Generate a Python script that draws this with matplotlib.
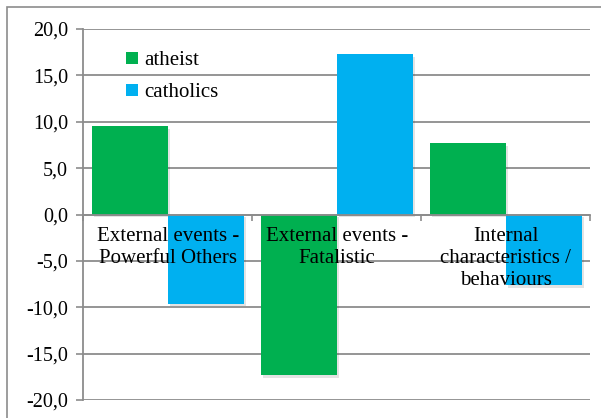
import os
import matplotlib
matplotlib.use("Agg")
import matplotlib.pyplot as plt
import matplotlib.patheffects as pe
from matplotlib.lines import Line2D
from matplotlib.patches import Rectangle
from matplotlib.font_manager import FontProperties
import numpy as np

categories = ["External events -\nPowerful Others", "External events -\nFatalistic",
              "Internal\ncharacteristics /\nbehaviours"]
series_names = ["atheist", "catholics"]
atheist = [9.5, -17.3, 7.7]
catholics = [-9.6, 17.3, -7.6]
yticks = [-20, -15, -10, -5, 0, 5, 10, 15, 20]
colors = ["#00B050", "#00B0F0"]

SERIF_FILE = "/usr/share/fonts/truetype/liberation/LiberationSerif-Regular.ttf"


def fp(size):
    if os.path.exists(SERIF_FILE):
        return FontProperties(fname=SERIF_FILE, size=size)
    return FontProperties(family="serif", size=size)


W, H = 601, 418
fig = plt.figure(figsize=(W / 100, H / 100), dpi=100)
fig.patches.append(Rectangle((7 / W, -0.1), 1.2, 1 - 7 / H + 0.1, transform=fig.transFigure,
                             fill=False, edgecolor="#8c8c8c", linewidth=1.2))
ax = fig.add_axes([83.3 / W, 1 - 400 / H, (590 - 83.3) / W, (400 - 29) / H])

x = np.arange(len(categories))
bw = 0.45
shadow = [pe.SimplePatchShadow(offset=(1.5, -2), alpha=0.15, shadow_rgbFace="#444444"), pe.Normal()]
for i, (vals, name) in enumerate(zip([atheist, catholics], series_names)):
    bars = ax.bar(x - bw / 2 + i * bw, vals, width=bw, color=colors[i], zorder=1.2, label=name)
    for b in bars:
        b.set_path_effects(shadow)

for v in yticks:
    ax.axhline(v, color="#8c8c8c", linewidth=1.3, zorder=0.5)

ax.set_xlim(-0.5, len(categories) - 0.5)
ax.set_ylim(-20, 20)
ax.set_yticks(yticks)
ax.set_yticklabels([f"{v:.1f}".replace(".", ",") for v in yticks], fontproperties=fp(14.5))
ax.tick_params(axis="y", length=5, width=1.2, color="#8c8c8c", pad=6)

ax.spines["bottom"].set_position(("data", 0))
for s in ["top", "right"]:
    ax.spines[s].set_visible(False)
for s in ["left", "bottom"]:
    ax.spines[s].set_color("#8c8c8c")
    ax.spines[s].set_linewidth(1.3)

ax.set_xticks(np.arange(len(categories) + 1) - 0.5)
ax.set_xticklabels([])
ax.set_xticks(x, minor=True)
ax.set_xticklabels(categories, minor=True, fontproperties=fp(15))
ax.tick_params(axis="x", which="major", length=4, width=1.2, color="#8c8c8c", direction="out")
ax.tick_params(axis="x", which="minor", length=0, pad=9)

handles = [Line2D([], [], marker="s", linestyle="none", markersize=8, color=c, markeredgewidth=0)
           for c in colors]
ax.legend(handles, series_names, loc="upper left", bbox_to_anchor=(0.06, 0.965), frameon=False,
          prop=fp(15), handletextpad=0.05, labelspacing=0.6,
          handlelength=1.0, borderaxespad=0)

fig.savefig("out.png", dpi=100)
